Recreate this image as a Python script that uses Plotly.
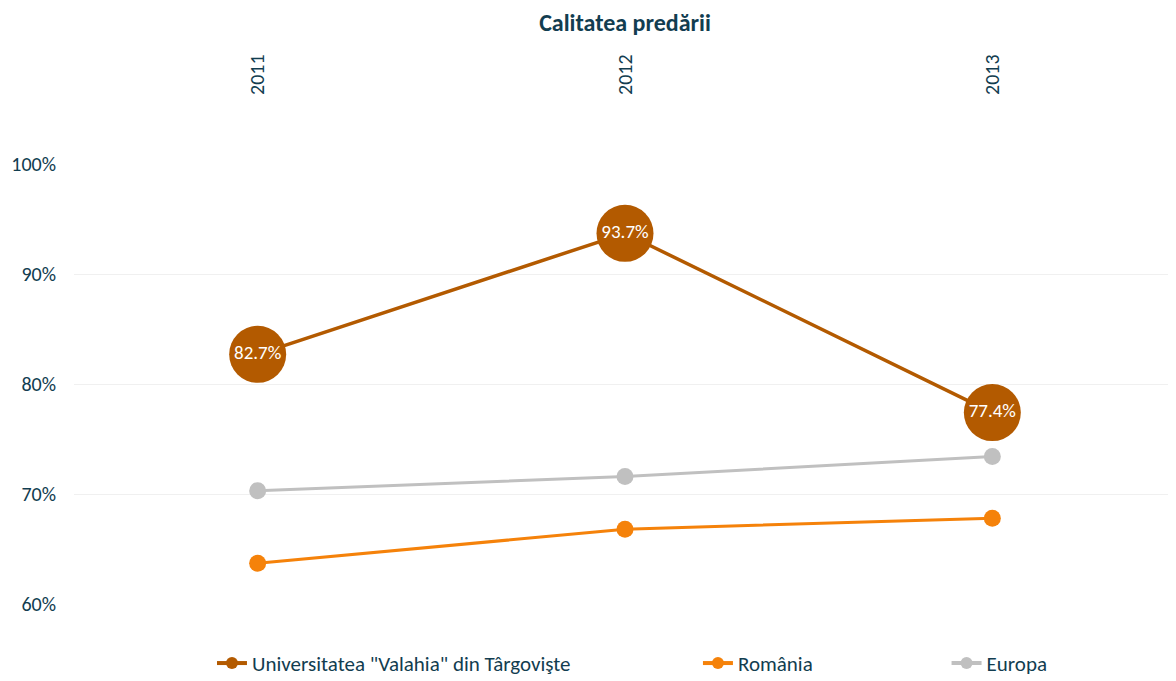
import plotly.graph_objects as go

# data
years = ["2011", "2012", "2013"]
universitate = [82.7, 93.7, 77.4]
romania = [63.7, 66.8, 67.8]
europa = [70.3, 71.6, 73.4]

series_names = ['Universitatea "Valahia" din Târgovişte', "România", "Europa"]
y_ticks = [60, 70, 80, 90, 100]

TEXT = "#123d50"
FONT = "Carlito, Lato, 'Open Sans', sans-serif"
C_UNI, C_RO, C_EU = "#b35a00", "#f5820a", "#c0c0c0"

fig = go.Figure()

# Europe and Romania drawn first so the university line sits on top
fig.add_trace(go.Scatter(
    x=years, y=europa, mode="lines+markers", showlegend=False,
    line=dict(color=C_EU, width=3), marker=dict(color=C_EU, size=17),
    hoverinfo="skip", cliponaxis=False))
fig.add_trace(go.Scatter(
    x=years, y=romania, mode="lines+markers", showlegend=False,
    line=dict(color=C_RO, width=3), marker=dict(color=C_RO, size=17),
    hoverinfo="skip", cliponaxis=False))
fig.add_trace(go.Scatter(
    x=years, y=universitate, mode="lines+markers+text", showlegend=False,
    line=dict(color=C_UNI, width=3.5), marker=dict(color=C_UNI, size=57),
    text=[f"{v:.1f}%" for v in universitate], textposition="middle center",
    textfont=dict(color="white", size=19, family=FONT),
    hoverinfo="skip", cliponaxis=False))

# legend-only entries, one legend each so they can be spread like the original
legend_cols = [("legend", C_UNI, 0.1252), ("legend2", C_RO, 0.5662), ("legend3", C_EU, 0.7918)]
for name, (lg, col, _) in zip(series_names, legend_cols):
    fig.add_trace(go.Scatter(
        x=[None], y=[None], mode="lines+markers", name=name, legend=lg,
        line=dict(color=col, width=4), marker=dict(color=col, size=12)))

legend_style = dict(orientation="h", yanchor="middle", y=-0.135, xanchor="left",
                    font=dict(size=21, color=TEXT, family=FONT),
                    bgcolor="rgba(0,0,0,0)", itemwidth=30)

# the page body adds an 8px margin, so the figure is sized to fit inside it;
# autoexpand off so the legends don't squeeze the plot area
fig.update_layout(
    width=1168, height=673,
    margin=dict(l=66, r=0, t=156, b=77, autoexpand=False),
    paper_bgcolor="white", plot_bgcolor="white",
    font=dict(family=FONT, color=TEXT, size=20),
    title=dict(text="<b>Calitatea predării</b>", x=0.5, xref="paper",
               y=0.979, yanchor="middle", font=dict(size=24, color=TEXT, family=FONT)),
    xaxis=dict(side="top", tickangle=-90, showgrid=False, zeroline=False,
               showline=False, ticks="", ticklabelstandoff=68,
               tickfont=dict(size=20, color=TEXT), range=[-0.5, 2.5]),
    yaxis=dict(range=[60, 100], tickvals=y_ticks,
               ticktext=[f"{v}%" for v in y_ticks],
               showgrid=True, gridcolor="#f0f0f0", gridwidth=1,
               zeroline=False, showline=False, ticks="",
               tickfont=dict(size=20, color=TEXT), ticklabelstandoff=17),
    **{lg: dict(legend_style, x=x) for lg, _, x in legend_cols},
)

fig.write_html("out.html")
